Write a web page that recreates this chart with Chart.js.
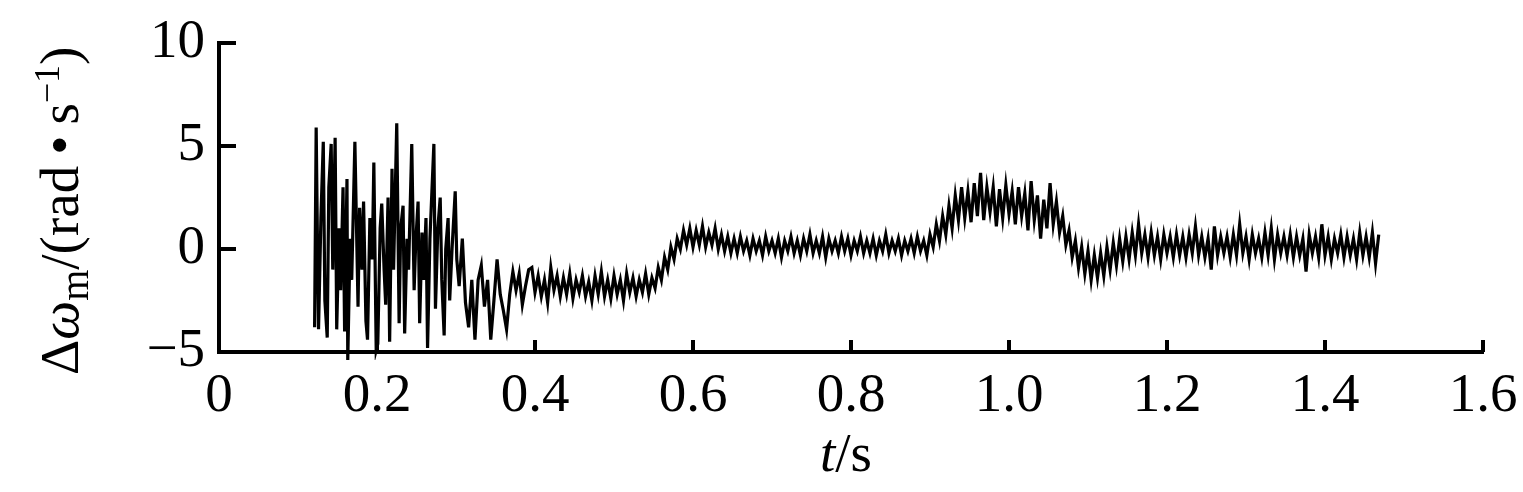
<!DOCTYPE html>
<html>
<head>
<meta charset="utf-8">
<script src="https://cdn.jsdelivr.net/npm/chart.js@4/dist/chart.umd.min.js"></script>
<style>
  body { margin: 0; background: #fff; }
  canvas { display: block; }
</style>
</head>
<body>
<canvas id="grafikKecepatan" width="1523" height="492"></canvas>
<script>
// Data: waktu (s) dan deviasi kecepatan (rad/s)

const waktu = [
    0.121, 0.123, 0.125, 0.126, 0.129, 0.132, 0.134, 0.137, 0.139, 0.142,
    0.144, 0.147, 0.149, 0.152, 0.154, 0.157, 0.159, 0.162, 0.163, 0.166,
    0.168, 0.172, 0.176, 0.178, 0.181, 0.183, 0.186, 0.188, 0.191, 0.194,
    0.196, 0.199, 0.201, 0.204, 0.206, 0.209, 0.211, 0.214, 0.216, 0.219,
    0.221, 0.225, 0.228, 0.230, 0.233, 0.235, 0.238, 0.240, 0.244, 0.247,
    0.249, 0.252, 0.254, 0.257, 0.259, 0.262, 0.264, 0.267, 0.272, 0.274,
    0.277, 0.280, 0.282, 0.285, 0.287, 0.290, 0.292, 0.295, 0.299, 0.301,
    0.304, 0.308, 0.312, 0.316, 0.320, 0.324, 0.328, 0.332, 0.336, 0.340,
    0.344, 0.348, 0.352, 0.356, 0.360, 0.364, 0.368, 0.372, 0.376, 0.380,
    0.384, 0.388, 0.392, 0.396, 0.400, 0.404, 0.408, 0.412, 0.416, 0.420,
    0.424, 0.428, 0.432, 0.436, 0.440, 0.444, 0.448, 0.452, 0.456, 0.460,
    0.464, 0.468, 0.472, 0.476, 0.480, 0.484, 0.488, 0.492, 0.496, 0.500,
    0.504, 0.508, 0.512, 0.516, 0.520, 0.524, 0.528, 0.532, 0.536, 0.540,
    0.544, 0.548, 0.552, 0.556, 0.560, 0.564, 0.568, 0.572, 0.576, 0.580,
    0.584, 0.588, 0.592, 0.596, 0.600, 0.604, 0.608, 0.612, 0.616, 0.620,
    0.624, 0.628, 0.632, 0.636, 0.640, 0.644, 0.648, 0.652, 0.656, 0.660,
    0.664, 0.668, 0.672, 0.676, 0.680, 0.684, 0.688, 0.692, 0.696, 0.700,
    0.704, 0.708, 0.712, 0.716, 0.720, 0.724, 0.728, 0.732, 0.736, 0.740,
    0.744, 0.748, 0.752, 0.756, 0.760, 0.764, 0.768, 0.772, 0.776, 0.780,
    0.784, 0.788, 0.792, 0.796, 0.800, 0.804, 0.808, 0.812, 0.816, 0.820,
    0.824, 0.828, 0.832, 0.836, 0.840, 0.844, 0.848, 0.852, 0.856, 0.860,
    0.864, 0.868, 0.872, 0.876, 0.880, 0.884, 0.888, 0.892, 0.896, 0.900,
    0.904, 0.908, 0.912, 0.916, 0.920, 0.924, 0.928, 0.932, 0.936, 0.940,
    0.944, 0.948, 0.952, 0.956, 0.960, 0.964, 0.968, 0.972, 0.976, 0.980,
    0.984, 0.988, 0.992, 0.996, 1.000, 1.004, 1.008, 1.012, 1.016, 1.020,
    1.024, 1.028, 1.032, 1.036, 1.040, 1.044, 1.048, 1.052, 1.056, 1.060,
    1.064, 1.068, 1.072, 1.076, 1.080, 1.084, 1.088, 1.092, 1.096, 1.100,
    1.104, 1.108, 1.112, 1.116, 1.120, 1.124, 1.128, 1.132, 1.136, 1.140,
    1.144, 1.148, 1.152, 1.156, 1.160, 1.164, 1.168, 1.172, 1.176, 1.180,
    1.184, 1.188, 1.192, 1.196, 1.200, 1.204, 1.208, 1.212, 1.216, 1.220,
    1.224, 1.228, 1.232, 1.236, 1.240, 1.244, 1.248, 1.252, 1.256, 1.260,
    1.264, 1.268, 1.272, 1.276, 1.280, 1.284, 1.288, 1.292, 1.296, 1.300,
    1.304, 1.308, 1.312, 1.316, 1.320, 1.324, 1.328, 1.332, 1.336, 1.340,
    1.344, 1.348, 1.352, 1.356, 1.360, 1.364, 1.368, 1.372, 1.376, 1.380,
    1.384, 1.388, 1.392, 1.396, 1.400, 1.404, 1.408, 1.412, 1.416, 1.420,
    1.424, 1.428, 1.432, 1.436, 1.440, 1.444, 1.448, 1.452, 1.456, 1.460,
    1.464, 1.468
];

const deltaOmega = [
    -3.8, 5.9, -1.0, -3.9, 1.5, 5.2, -2.5, -4.3, 3.0, 5.1,
    -1.0, 5.4, -3.9, 1.0, -2.0, 3.0, -4.0, 3.4, -5.4, 0.5,
    -1.5, 5.2, -2.8, 2.0, -1.0, 2.3, -3.5, -4.4, 1.5, -0.5,
    4.2, -4.9, -4.6, 1.0, 2.2, -1.0, -2.7, 2.5, -4.5, 3.9,
    -1.0, 6.1, -3.6, 1.0, 2.1, -4.1, 0.5, -1.0, 5.1, -2.0,
    0.3, 2.3, -3.6, 0.8, -1.5, 1.5, -4.8, 0.5, 5.1, -2.9,
    1.0, 2.5, -1.5, -4.2, 0.0, 1.5, -2.5, 0.0, 2.8, -0.5,
    -1.8, 0.5, -2.6, -3.8, -1.5, -4.4, -1.5, -0.8, -2.8, -1.5,
    -4.4, -2.5, -0.5, -2.2, -3.0, -3.9, -2.2, -1.1, -2.0, -1.2,
    -2.7, -1.8, -1.0, -0.9, -2.1, -1.3, -2.3, -1.5, -2.6, -0.9,
    -2.0, -1.3, -2.3, -1.4, -2.2, -1.2, -2.4, -1.5, -2.1, -1.3,
    -2.3, -1.6, -2.5, -1.3, -2.2, -1.1, -2.3, -1.5, -2.4, -1.3,
    -2.2, -1.5, -2.5, -1.2, -2.1, -1.4, -2.3, -1.5, -2.1, -1.2,
    -2.2, -1.4, -1.9, -0.9, -1.5, -0.4, -1.0, 0.1, -0.5, 0.5,
    0.0, 0.9, 0.2, 1.0, 0.1, 0.9, 0.2, 1.1, 0.1, 0.8,
    0.2, 1.0, 0.0, 0.7, -0.1, 0.6, -0.2, 0.5, -0.2, 0.6,
    -0.1, 0.4, -0.3, 0.5, -0.1, 0.4, -0.3, 0.6, -0.1, 0.4,
    -0.2, 0.5, -0.4, 0.4, -0.1, 0.6, -0.2, 0.4, -0.3, 0.5,
    -0.1, 0.7, -0.2, 0.4, -0.2, 0.6, -0.4, 0.5, -0.1, 0.4,
    -0.2, 0.6, -0.1, 0.5, -0.3, 0.4, -0.1, 0.6, -0.2, 0.4,
    -0.2, 0.5, -0.3, 0.4, -0.1, 0.7, -0.2, 0.4, -0.1, 0.5,
    -0.3, 0.4, -0.1, 0.5, -0.2, 0.6, -0.1, 0.4, -0.3, 0.7,
    0.1, 1.2, 0.4, 1.6, 0.7, 2.1, 1.0, 2.6, 1.4, 3.0,
    1.5, 2.8, 1.3, 3.2, 1.6, 3.7, 1.4, 3.0, 1.8, 3.0,
    1.1, 2.9, 1.5, 3.1, 1.7, 2.8, 1.2, 3.0, 1.6, 2.7,
    0.9, 3.3, 1.4, 2.6, 0.5, 2.4, 1.0, 3.2, 1.2, 2.3,
    0.8, 1.6, 0.2, 0.9, -0.4, 0.4, -0.9, 0.1, -1.2, -0.1,
    -1.5, -0.3, -1.4, -0.2, -1.3, 0.1, -1.0, 0.3, -0.8, 0.5,
    -0.6, 0.6, -0.5, 0.8, -0.3, 1.2, -0.2, 0.7, -0.4, 0.8,
    -0.3, 0.6, -0.5, 0.7, -0.2, 0.6, -0.4, 0.7, -0.3, 0.6,
    -0.4, 0.7, -0.2, 1.1, -0.3, 0.6, -0.4, 0.5, -1.0, 1.1,
    -0.3, 0.6, -0.2, 0.6, -0.4, 0.7, -0.3, 1.2, -0.2, 0.6,
    -0.5, 0.7, -0.2, 0.5, -0.4, 0.8, -0.3, 1.0, -0.5, 0.7,
    -0.2, 0.6, -0.3, 0.7, -0.4, 0.6, -0.3, 0.5, -1.1, 0.7,
    -0.2, 0.6, -0.4, 1.2, -0.3, 0.6, -0.5, 0.5, -0.2, 0.7,
    -0.4, 0.6, -0.3, 0.5, -0.5, 0.8, -0.3, 0.6, -0.4, 0.8,
    -0.7, 0.7
];

// Label sumbu
const tickX = [0, 0.2, 0.4, 0.6, 0.8, 1.0, 1.2, 1.4, 1.6];
const tickY = [-5, 0, 5, 10];

const hurufSerif = '"Liberation Serif", "Times New Roman", serif';

// Plugin: garis tick ke dalam dan judul sumbu
const sumbuPlugin = {
    id: 'sumbuPlugin',
    afterDraw(chart) {
        const ctx = chart.ctx;
        const area = chart.chartArea;
        const sx = chart.scales.x;
        const sy = chart.scales.y;
        ctx.save();
        ctx.strokeStyle = '#000';
        ctx.fillStyle = '#000';
        ctx.lineWidth = 4;
        tickX.forEach(v => {
            const px = sx.getPixelForValue(v);
            ctx.beginPath();
            ctx.moveTo(px, area.bottom);
            ctx.lineTo(px, area.bottom - 12);
            ctx.stroke();
        });
        tickY.forEach(v => {
            const py = sy.getPixelForValue(v);
            ctx.beginPath();
            ctx.moveTo(area.left, py);
            ctx.lineTo(area.left + 17, py);
            ctx.stroke();
        });

        // judul sumbu x: t/s
        ctx.textBaseline = 'alphabetic';
        ctx.font = 'italic 55px ' + hurufSerif;
        const wt = ctx.measureText('t').width;
        ctx.font = '55px ' + hurufSerif;
        const ws = ctx.measureText('/s').width;
        let x0 = 846 - (wt + ws) / 2;
        ctx.font = 'italic 55px ' + hurufSerif;
        ctx.fillText('t', x0, 471);
        ctx.font = '55px ' + hurufSerif;
        ctx.fillText('/s', x0 + wt, 471);

        // judul sumbu y: Δω_m/(rad·s^-1)
        const bagian = [
            ['Δ', '55px ', 0],
            ['ω', 'italic 55px ', 0],
            ['m', '40px ', 10],
            ['/(rad\u2009•\u2009s', '55px ', 0],
            ['\u22121', '36px ', -19],
            [')', '55px ', 0]
        ];
        ctx.translate(78, 375);
        ctx.rotate(-Math.PI / 2);
        let pos = 0;
        bagian.forEach(b => {
            ctx.font = b[1] + hurufSerif;
            ctx.fillText(b[0], pos, b[2]);
            pos += ctx.measureText(b[0]).width;
        });
        ctx.restore();
    }
};

const dataGrafik = {
    datasets: [{
        label: 'Δω',
        data: waktu.map((t, i) => ({ x: t, y: deltaOmega[i] })),
        borderColor: '#000',
        borderWidth: 3.2,
        pointRadius: 0,
        tension: 0,
        clip: 8
    }]
};

const configGrafik = {
    type: 'line',
    data: dataGrafik,
    options: {
        responsive: false,
        animation: false,
        devicePixelRatio: 1,
        layout: {
            padding: { left: 0, right: 40, top: 43, bottom: 0 }
        },
        plugins: {
            legend: { display: false },
            tooltip: { enabled: false }
        },
        scales: {
            x: {
                type: 'linear',
                min: 0,
                max: 1.6,
                afterBuildTicks: s => { s.ticks = tickX.map(v => ({ value: v })); },
                afterFit: s => { s.height = 140; s.paddingLeft = 0; s.paddingRight = 0; },
                grid: { display: false, drawTicks: false },
                border: { display: true, color: '#000', width: 4 },
                ticks: {
                    color: '#000',
                    padding: 12,
                    maxRotation: 0,
                    autoSkip: false,
                    font: { family: hurufSerif, size: 55 },
                    callback: v => (v === 0 ? '0' : v.toFixed(1))
                }
            },
            y: {
                min: -5,
                max: 10,
                afterBuildTicks: s => { s.ticks = tickY.map(v => ({ value: v })); },
                afterFit: s => { s.width = 219; s.paddingTop = 0; s.paddingBottom = 0; },
                grid: { display: false, drawTicks: false },
                border: { display: true, color: '#000', width: 4 },
                ticks: {
                    color: '#000',
                    padding: 14,
                    font: { family: hurufSerif, size: 55 },
                    callback: v => (v < 0 ? '\u2212' + Math.abs(v) : String(v))
                }
            }
        }
    },
    plugins: [sumbuPlugin]
};

var grafikKecepatan = new Chart(
    document.getElementById('grafikKecepatan'),
    configGrafik
);
</script>
</body>
</html>
